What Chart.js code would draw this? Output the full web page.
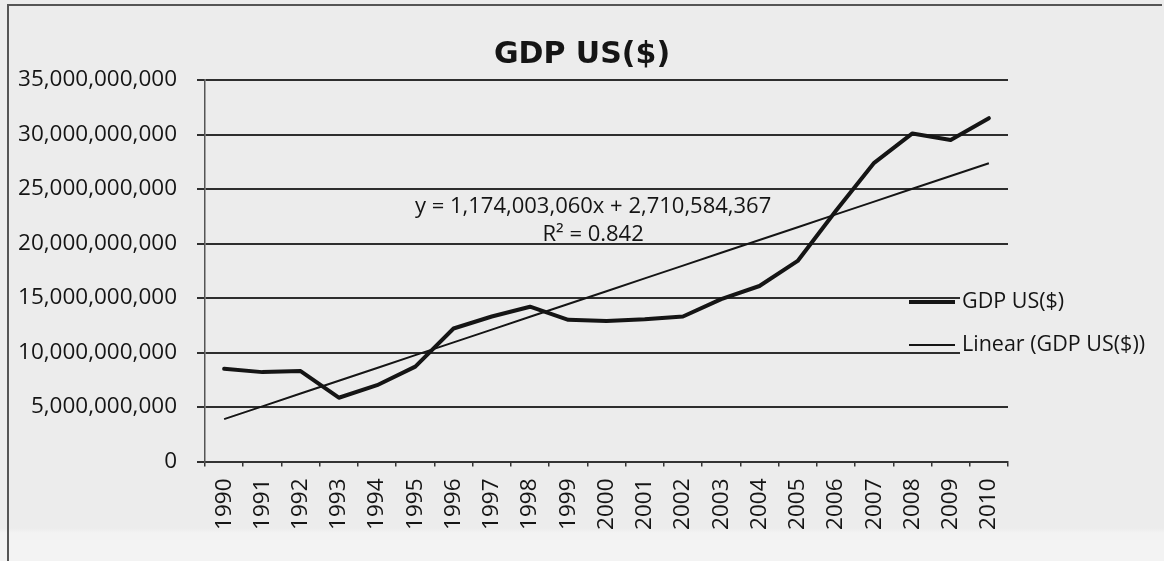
<!DOCTYPE html>
<html>
<head>
<meta charset="utf-8">
<title>GDP US($)</title>
<script src="https://cdn.jsdelivr.net/npm/chart.js@4.4.1/dist/chart.umd.min.js"></script>
<style>
  html, body { margin: 0; padding: 0; background: #ececec; }
  #wrap {
    position: relative; width: 1164px; height: 561px;
    background: linear-gradient(#ececec 0, #ececec 528px, #f3f3f3 533px, #f3f3f3 100%);
  }
  #frame {
    position: absolute; left: 7px; top: 4px; right: 2px; bottom: 0;
    border-left: 2px solid #555; border-top: 2px solid #555;
    pointer-events: none;
  }
  canvas { position: absolute; left: 0; top: 0; }
</style>
</head>
<body>
<div id="wrap">
  <canvas id="gdpChart" width="1164" height="561"></canvas>
  <div id="frame"></div>
</div>
<script>
// years on the category axis
const years = ['1990', '1991', '1992', '1993', '1994', '1995', '1996', '1997', '1998', '1999',
  '2000', '2001', '2002', '2003', '2004', '2005', '2006', '2007', '2008', '2009', '2010'];

// GDP in US$
const gdpValues = [8.5e9, 8.2e9, 8.3e9, 5.85e9, 7.0e9, 8.7e9, 12.2e9, 13.3e9, 14.2e9, 13.0e9,
  12.9e9, 13.05e9, 13.3e9, 14.9e9, 16.1e9, 18.4e9, 23.0e9, 27.4e9, 30.1e9, 29.5e9, 31.5e9];

// linear trend fitted in the spreadsheet: y = slope * x + intercept, x = 1..21
const trendSlope = 1174003060;
const trendIntercept = 2710584367;
const trendR2 = 0.842;
const trendValues = years.map((_, i) => trendSlope * (i + 1) + trendIntercept);

// value axis ticks
const yTicks = [0, 5e9, 10e9, 15e9, 20e9, 25e9, 30e9, 35e9];

const ink = '#151515';
const fmt = n => n.toLocaleString('en-US');

// trendline equation + R² text inside the plot
const trendLabel = {
  id: 'trendLabel',
  afterDatasetsDraw(chart) {
    const { ctx, scales } = chart;
    const x = scales.x.getPixelForValue(9.65);
    const y = scales.y.getPixelForValue(23.35e9);
    ctx.save();
    ctx.fillStyle = ink;
    ctx.font = '22px "Open Sans"';
    ctx.textAlign = 'center';
    ctx.textBaseline = 'middle';
    ctx.fillText('y = ' + fmt(trendSlope) + 'x + ' + fmt(trendIntercept), x, y);
    ctx.fillText('R² = ' + trendR2, x, y + 28);
    ctx.restore();
  }
};

// legend sitting over the right end of the plot
const sideLegend = {
  id: 'sideLegend',
  afterDatasetsDraw(chart) {
    const { ctx, chartArea } = chart;
    const x0 = chartArea.right - 99;
    const x1 = x0 + 46;
    ctx.save();
    ctx.font = '21.5px "Open Sans"';
    ctx.textBaseline = 'middle';
    chart.data.datasets.forEach((ds, i) => {
      const y = chartArea.top + 222 + i * 43;
      const w = ctx.measureText(ds.label).width;
      ctx.fillStyle = '#ececec';
      ctx.fillRect(x1 + 5, y - 12, w + 4, 24);
      ctx.strokeStyle = ds.borderColor;
      ctx.lineWidth = ds.borderWidth;
      ctx.beginPath();
      ctx.moveTo(x0, y);
      ctx.lineTo(x1, y);
      ctx.stroke();
      ctx.fillStyle = ink;
      ctx.fillText(ds.label, x1 + 7, y);
    });
    ctx.restore();
  }
};

const ctx = document.getElementById('gdpChart').getContext('2d');
const gdpChart = new Chart(ctx, {
  type: 'line',
  data: {
    labels: years,
    datasets: [
      {
        label: 'GDP US($)',
        data: gdpValues,
        borderColor: ink,
        borderWidth: 4,
        pointRadius: 0,
        tension: 0,
        borderJoinStyle: 'round',
        borderCapStyle: 'round'
      },
      {
        label: 'Linear (GDP US($))',
        data: trendValues,
        borderColor: ink,
        borderWidth: 2,
        pointRadius: 0
      }
    ]
  },
  options: {
    responsive: false,
    animation: false,
    devicePixelRatio: 1,
    plugins: {
      legend: { display: false },
      tooltip: { enabled: false },
      title: {
        display: true,
        text: 'GDP US($)',
        color: ink,
        font: { family: 'DejaVu Sans', weight: 'bold', size: 30, lineHeight: 1.2 },
        padding: { top: 37, bottom: 7 }
      }
    },
    scales: {
      x: {
        offset: true,
        grid: { offset: true, drawOnChartArea: false, tickLength: 5, color: '#333', lineWidth: 1.5 },
        border: { color: '#333', width: 2 },
        ticks: {
          autoSkip: false, minRotation: 90, maxRotation: 90, padding: 12,
          color: ink, font: { family: 'Open Sans', size: 22.5 }
        },
        afterFit(scale) { scale.height = 99.5; }
      },
      y: {
        min: 0,
        max: 35e9,
        afterBuildTicks(scale) { scale.ticks = yTicks.map(v => ({ value: v })); },
        ticks: {
          padding: 20, color: ink,
          font: { family: 'Open Sans', size: 22.5 },
          callback: v => fmt(v)
        },
        grid: { color: '#2e2e2e', lineWidth: 2, tickLength: 8 },
        border: { color: '#555', width: 1.5 },
        afterFit(scale) { scale.width = 205; }
      },
      // empty strip on the right where the legend hangs out
      legendSpace: {
        position: 'right',
        grid: { display: false },
        border: { display: false },
        ticks: { display: false },
        afterFit(scale) { scale.width = 156; }
      }
    }
  },
  plugins: [trendLabel, sideLegend]
});
</script>
</body>
</html>
